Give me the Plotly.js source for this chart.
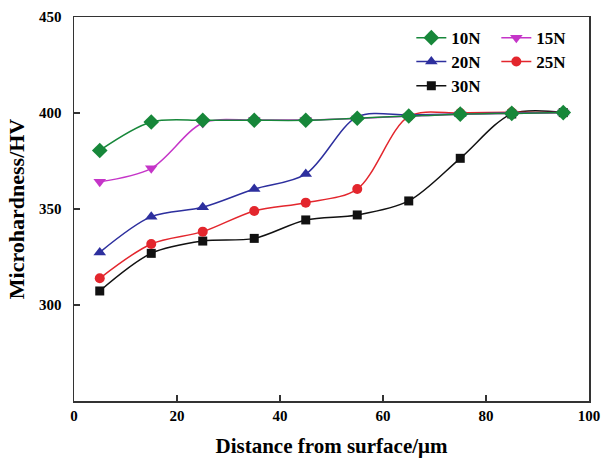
<!DOCTYPE html>
<html><head><meta charset="utf-8">
<script src="https://cdn.plot.ly/plotly-3.0.1.min.js"></script>
<style>html,body{margin:0;padding:0;background:#fff}</style>
</head><body>
<div id="chart" style="width:604px;height:462px"></div>
<script>
const distance = [5, 15, 25, 35, 45, 55, 65, 75, 85, 95];
const hv10N = [380.5, 395.3, 396.2, 396.2, 396.2, 397.3, 398.4, 399.4, 399.8, 400.2];
const hv15N = [364.2, 371.2, 394.8, 396.3, 396.4, 397.2, 398.3, 399.3, 399.8, 400.2];
const hv20N = [327.4, 346, 350.9, 360.4, 368.2, 398, 399, 399.5, 400, 400.2];
const hv25N = [313.9, 331.8, 338.2, 349, 353.3, 360.4, 398.2, 400, 400.4, 400.2];
const hv30N = [307.3, 326.9, 333.3, 334.7, 344.3, 346.9, 354.2, 376.4, 399.5, 400.2];
const seriesNames = ['10N', '15N', '20N', '25N', '30N'];

const colors = ['#17873a', '#c535c8', '#2d2f9e', '#e3262d', '#111111'];
const symbols = ['diamond', 'triangle-down', 'triangle-up', 'circle', 'square'];
const sizes = [12, 11, 11, 10, 9];
const legends = ['legend', 'legend', 'legend2', 'legend2', 'legend3'];
const ys = [hv10N, hv15N, hv20N, hv25N, hv30N];

const traces = ys.map((y, i) => ({
  x: distance, y: y, name: seriesNames[i], type: 'scatter', mode: 'lines+markers',
  line: {color: colors[i], width: 1.5, shape: 'spline', smoothing: 0.9},
  marker: {color: colors[i], symbol: symbols[i], size: sizes[i]},
  legend: legends[i], legendrank: i + 1
}));
// draw green on top
traces.reverse();

const font = {family: '"Liberation Serif", "Times New Roman", serif', color: '#000'};
const legendBase = {
  orientation: 'h', x: 0.655, xanchor: 'left', yanchor: 'middle',
  bgcolor: 'rgba(0,0,0,0)', entrywidth: 40, entrywidthmode: 'pixels',
  font: Object.assign({}, font, {size: 17, weight: 'bold'})
};
const layout = {
  width: 604, height: 462,
  margin: {l: 74, r: 15, t: 17, b: 61, autoexpand: false},
  paper_bgcolor: '#fff', plot_bgcolor: '#fff',
  font: font,
  showlegend: true,
  legend: Object.assign({}, legendBase, {y: 0.945}),
  legend2: Object.assign({}, legendBase, {y: 0.883}),
  legend3: Object.assign({}, legendBase, {y: 0.82}),
  xaxis: {
    range: [0, 100], tickvals: [0, 20, 40, 60, 80, 100], ticks: 'inside', ticklen: 6,
    tickwidth: 1.5, tickcolor: '#333', showline: true, linecolor: '#333', linewidth: 1.5,
    mirror: true, showgrid: false, zeroline: false, automargin: false,
    tickfont: Object.assign({}, font, {size: 15, weight: 'bold'}),
    title: {text: 'Distance from surface/μm', font: Object.assign({}, font, {size: 21, weight: 'bold'}), standoff: 16}
  },
  yaxis: {
    range: [250, 450], tickvals: [300, 350, 400, 450], ticks: 'inside', ticklen: 6,
    tickwidth: 1.5, tickcolor: '#333', showline: true, linecolor: '#333', linewidth: 1.5,
    mirror: true, showgrid: false, zeroline: false, ticklabelstandoff: 8, automargin: false,
    tickfont: Object.assign({}, font, {size: 15, weight: 'bold'}),
    title: {text: 'Microhardness/HV', font: Object.assign({}, font, {size: 22, weight: 'bold'}), standoff: 8}
  }
};
Plotly.newPlot('chart', traces, layout, {displayModeBar: false, staticPlot: true});
</script>
</body></html>
